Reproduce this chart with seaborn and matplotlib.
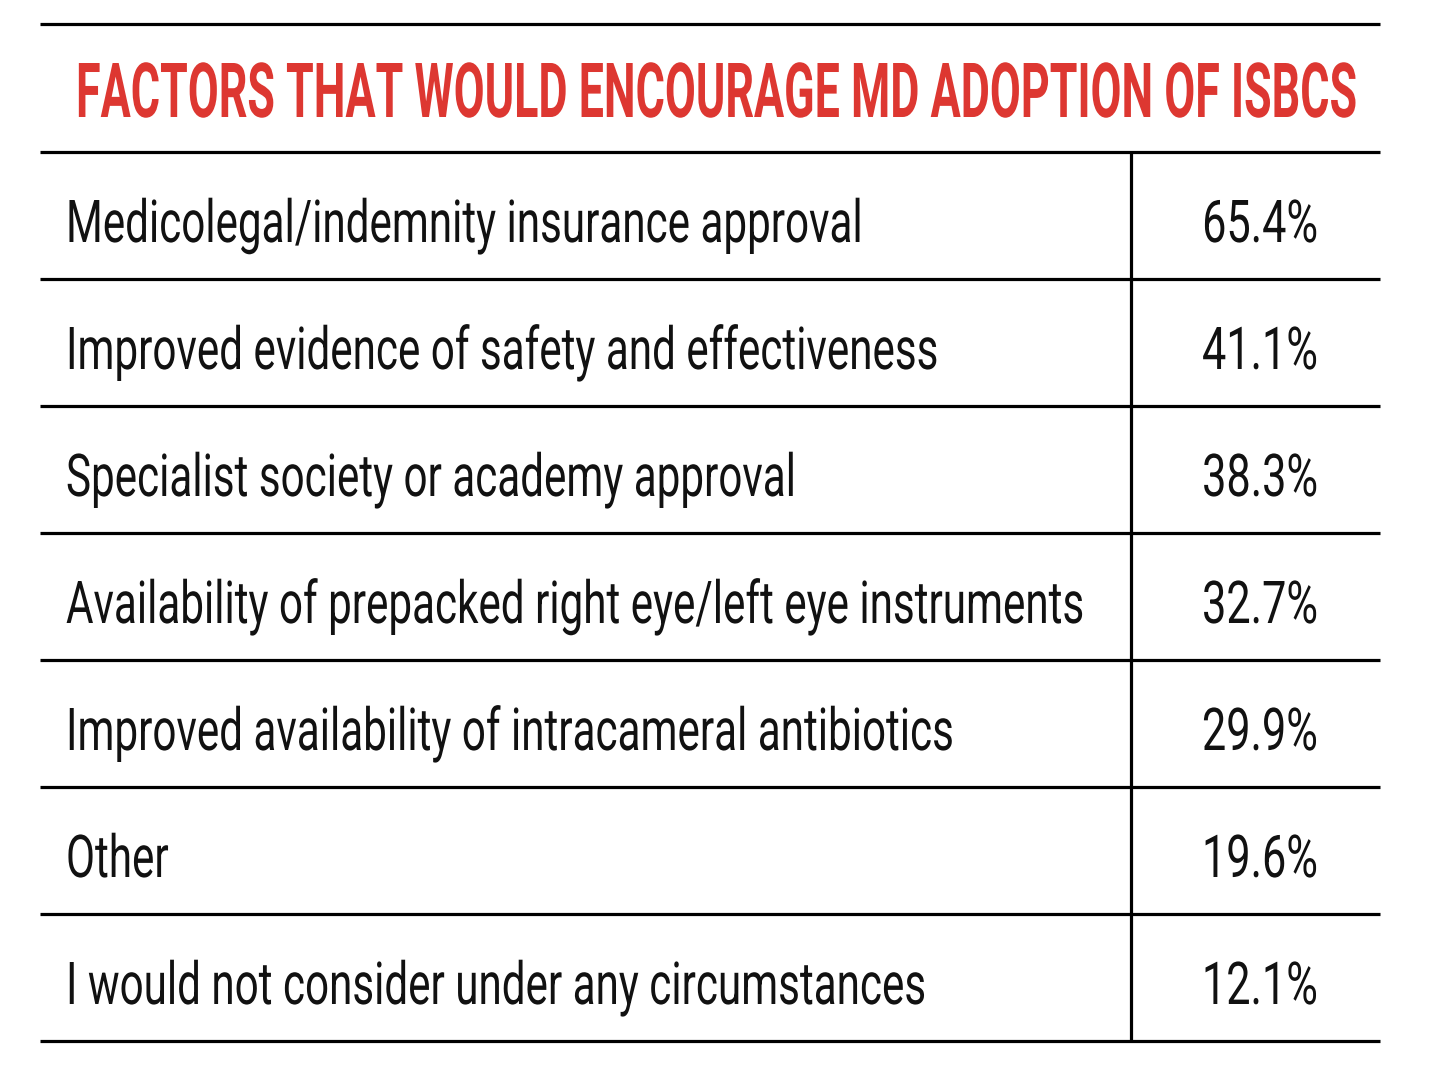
import matplotlib
matplotlib.use("Agg")
import matplotlib.pyplot as plt
import seaborn as sns
from matplotlib import font_manager as fm
from matplotlib.patheffects import AbstractPathEffect
from matplotlib.transforms import Affine2D

# ---------------- data ----------------
title = "FACTORS THAT WOULD ENCOURAGE MD ADOPTION OF ISBCS"
factors = [
    "Medicolegal/indemnity insurance approval",
    "Improved evidence of safety and effectiveness",
    "Specialist society or academy approval",
    "Availability of prepacked right eye/left eye instruments",
    "Improved availability of intracameral antibiotics",
    "Other",
    "I would not consider under any circumstances",
]
values = [65.4, 41.1, 38.3, 32.7, 29.9, 19.6, 12.1]
value_labels = [f"{v:.1f}%" for v in values]

# ---------------- style ----------------
sns.set_theme(style="white")
names = {f.name for f in fm.fontManager.ttflist}
family = "Roboto" if "Roboto" in names else "DejaVu Sans"
cap_ratio = 0.711 if family == "Roboto" else 0.729
plt.rcParams['font.family'] = [family, 'DejaVu Sans']


class TallGlyphs(AbstractPathEffect):
    """Stretch glyph outlines vertically about the baseline (condensed typeface look)."""

    def __init__(self, sy):
        super().__init__()
        self.sy = sy
        self.text = None

    def draw_path(self, renderer, gc, tpath, affine, rgbFace=None):
        t = self.text
        yb = t.get_transform().transform(t.get_unitless_position())[1]
        new = affine + Affine2D().translate(0, -yb).scale(1, self.sy).translate(0, yb)
        renderer.draw_path(gc, tpath, new, rgbFace)


W, H = 1444, 1074
DPI = 100
fig = plt.figure(figsize=(W / DPI, H / DPI), dpi=DPI)
fig.patch.set_facecolor("white")
ax = fig.add_axes([0, 0, 1, 1])
ax.set_xlim(0, W)
ax.set_ylim(H, 0)
ax.axis("off")

red = "#dd3731"
ink = "#111111"
lw = 2.3
x0, x1 = 40, 1380
xdiv = 1131
top_line = 24
table_top = 152
row_h = (1041 - table_top) / len(factors)

# rules
ax.hlines([top_line], x0, x1, color="black", lw=lw)
row_edges = [table_top + i * row_h for i in range(len(factors) + 1)]
ax.hlines(row_edges, x0, x1, color="black", lw=lw)
ax.vlines([xdiv], row_edges[0], row_edges[-1], color="black", lw=lw)

fig.canvas.draw()
renderer = fig.canvas.get_renderer()


def size_for_cap(cap_px):
    return cap_px / cap_ratio * 72 / DPI


def natural_width(text, size, weight):
    t = ax.text(0, 0, text, fontsize=size, fontweight=weight)
    w = t.get_window_extent(renderer).width
    t.remove()
    return w


def tall_text(x, y, s, size, sx, ha, **kw):
    """Text at size*sx (so its width fits), glyphs stretched to full cap height."""
    eff = TallGlyphs(1.0 / sx)
    t = ax.text(x, y, s, ha=ha, va="baseline", fontsize=size * sx,
                path_effects=[eff], **kw)
    eff.text = t
    return t


# title
tsize = size_for_cap(54)
t_sx = 1280 / natural_width(title, tsize, "bold")
tall_text(76, 117, title, tsize, t_sx, "left", color=red, fontweight="bold")

# rows: condensing factor fitted to the reference line lengths
lsize = size_for_cap(42)
lweight = "normal"
label_widths = [792, 877, 723, 1032, 884, 100, 859]
nat = [natural_width(f, lsize, lweight) for f in factors]
l_sx = sum(t * n for t, n in zip(label_widths, nat)) / sum(n * n for n in nat)
v_sx = 116 / natural_width(value_labels[0], lsize, lweight)
for i, (lab, val) in enumerate(zip(factors, value_labels)):
    base = row_edges[i] + 90
    tall_text(66, base, lab, lsize, l_sx, "left", fontweight=lweight, color=ink)
    tall_text(1260, base, val, lsize, v_sx, "center", fontweight=lweight, color=ink)

fig.savefig("out.png", dpi=DPI, facecolor="white")
